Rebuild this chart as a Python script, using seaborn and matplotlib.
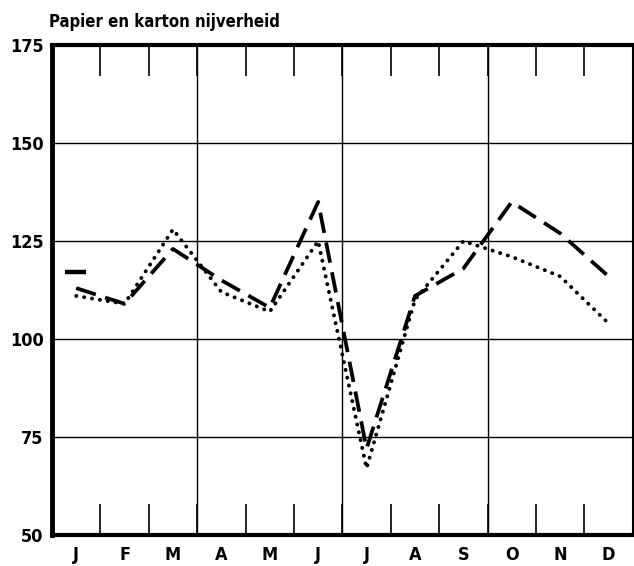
import matplotlib
matplotlib.use("Agg")
import matplotlib.pyplot as plt
from matplotlib.ticker import FixedLocator
import seaborn as sns
import pandas as pd

months = ["J", "F", "M", "A", "M", "J", "J", "A", "S", "O", "N", "D"]
series_dashed = [113, 109, 123, 115, 108, 135, 72, 111, 118, 135, 127, 116]
series_dotted = [111, 109, 128, 112, 107, 125, 67, 110, 125, 121, 116, 104]
start_level = 117
y_ticks = [50, 75, 100, 125, 150, 175]
title = "Papier en karton nijverheid"

sns.set_theme(style="white")
plt.rcParams["font.family"] = ["DejaVu Sans"]
plt.rcParams["font.stretch"] = "condensed"
plt.rcParams["font.weight"] = "bold"
plt.rcParams["text.color"] = "black"
plt.rcParams["xtick.color"] = "black"
plt.rcParams["ytick.color"] = "black"

pos = [i + 0.5 for i in range(len(months))]
df = pd.DataFrame({
    "pos": pos * 2,
    "value": series_dashed + series_dotted,
    "reeks": ["a"] * len(months) + ["b"] * len(months),
})

fig = plt.figure(figsize=(6.34, 5.66), dpi=100)
ax = fig.add_axes([0.082, 0.055, 0.916, 0.865])

sns.lineplot(data=df[df.reeks == "a"], x="pos", y="value", ax=ax, color="black",
             linewidth=2.7, legend=False, linestyle=(0, (5.5, 2.6)))
sns.lineplot(data=df[df.reeks == "b"], x="pos", y="value", ax=ax, color="black",
             linewidth=2.8, legend=False, linestyle=(0, (0.05, 2.0)))
ax.lines[0].set_dash_capstyle("butt")
ax.lines[1].set_dash_capstyle("round")

ax.hlines(start_level, 0.27, 0.7, color="black", linewidth=3.2)

ax.set_xlim(0, 12)
ax.set_ylim(50, 175)
ax.set_xticks(pos)
ax.set_xticklabels(months, fontsize=13, fontweight="bold")
ax.xaxis.set_minor_locator(FixedLocator(range(1, 12)))
ax.tick_params(axis="x", which="major", length=0, pad=8)
ax.tick_params(axis="x", which="minor", direction="in", length=22, width=1.2,
               top=True, bottom=True, color="black")
ax.set_yticks(y_ticks)
ax.set_yticklabels([str(v) for v in y_ticks], fontsize=13, fontweight="bold")
ax.tick_params(axis="y", length=0, pad=6)

for v in y_ticks[1:-1]:
    ax.axhline(v, color="black", linewidth=1.0, zorder=0)
for q in (3, 6, 9):
    ax.axvline(q, color="black", linewidth=1.0, zorder=0)

for side, w in (("left", 3.5), ("bottom", 3.0), ("top", 3.0), ("right", 1.5)):
    ax.spines[side].set_visible(True)
    ax.spines[side].set_color("black")
    ax.spines[side].set_linewidth(w)

ax.set_xlabel("")
ax.set_ylabel("")
fig.text(0.078, 0.962, title, fontsize=12, fontweight="bold", ha="left", va="center")

fig.savefig("out.png", dpi=100, facecolor="white")
